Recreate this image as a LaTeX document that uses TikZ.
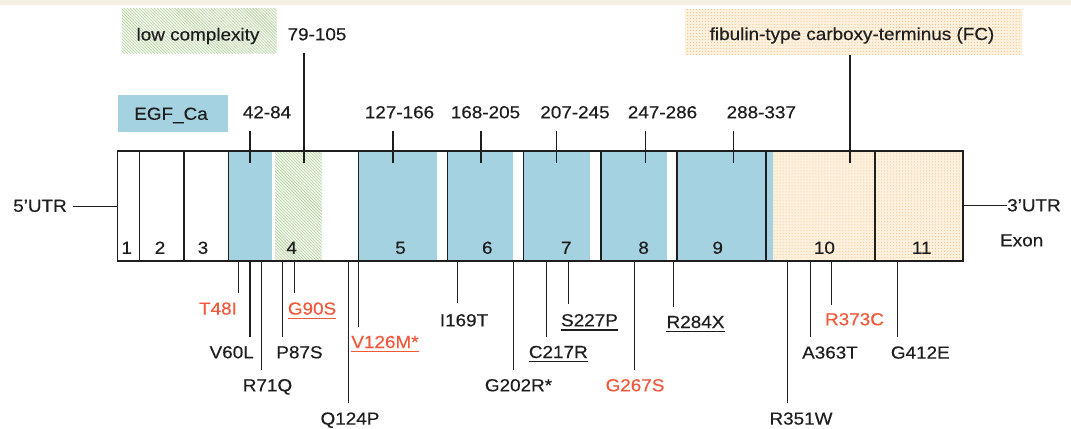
\documentclass[tikz,border=0pt]{standalone}
\usepackage{fontspec}
\setmainfont{Liberation Sans}[FakeStretch=1.08,FakeBold=0.35]
\usetikzlibrary{patterns}
\definecolor{ink}{RGB}{30,30,30}
\definecolor{egf}{RGB}{165,210,224}
\definecolor{mutred}{RGB}{240,90,60}
\definecolor{strip}{RGB}{244,240,226}
\definecolor{lcline}{RGB}{172,205,150}
\definecolor{lcbg}{RGB}{240,246,234}
\definecolor{fcbg}{RGB}{253,241,222}
\definecolor{fcdot}{RGB}{238,190,130}
\begin{document}
\begin{tikzpicture}[x=1bp,y=-1bp,
  txt/.style={font=\fontsize{17.5bp}{20bp}\selectfont, text=ink, inner sep=0pt},
  lbl/.style={txt, text height=12.6bp, text depth=0pt},
  ln/.style={draw=ink, line width=1.6bp},
  tk/.style={draw=ink, line width=1.5bp},
]
\useasboundingbox (0,0) rectangle (1071,428);
\fill[white] (0,0) rectangle (1071,428);
\fill[strip] (0,0) rectangle (1071,5);

% legend boxes
\node[draw=none, preaction={fill=lcbg}, pattern=north west lines, pattern color=lcline, minimum width=155bp, minimum height=45bp, inner sep=0pt] (lcbox) at (199.2,30.8) {};
\node[txt, anchor=base] (lctext) at (198,40.5) {low complexity};
\node[draw=none, preaction={fill=fcbg}, pattern=dots, pattern color=fcdot, minimum width=337bp, minimum height=46bp, inner sep=0pt] (fcbox) at (853.7,31.8) {};
\node[txt, anchor=base] (fctext) at (852,40) {fibulin-type carboxy-terminus (FC)};
\node[fill=egf, minimum width=110bp, minimum height=37bp, inner sep=0pt] (egfbox) at (173,113.5) {};
\node[lbl] (egftext) at (171,113.5) {EGF\_Ca};

% exon fills
\fill[egf] (228.3,151) rectangle (271.7,260.7);
\fill[lcbg] (275,151) rectangle (321.7,260.7);
\fill[pattern=north west lines, pattern color=lcline] (275,151) rectangle (321.7,260.7);
\fill[egf] (358.3,151) rectangle (436.6,260.7);
\fill[egf] (447.5,151) rectangle (513,260.7);
\fill[egf] (523.3,151) rectangle (590,260.7);
\fill[egf] (601,151) rectangle (666.7,260.7);
\fill[egf] (676.7,151) rectangle (773.3,260.7);
\fill[fcbg] (773.3,151) rectangle (962.7,260.7);
\fill[pattern=dots, pattern color=fcdot] (773.3,151) rectangle (962.7,260.7);

% exon frame
\draw[ln] (117.3,151) rectangle (962.7,260.7);
\foreach \bx in {139.3,184,228.3,358.3,447.5,523.3,601,676.7,766,875}
  \draw[ln] (\bx,151) -- (\bx,260.7);

% exon numbers
\foreach \i/\ex in {1/126.7,2/160,3/203,4/291.7,5/400.5,6/487.3,7/566.2,8/643.6,9/717.7,10/824.4,11/921.7}
  \node[lbl] (ex\i) at (\ex,247.5) {\i};
\node[lbl] (exon) at (1021.7,240) {Exon};

% UTRs
\node[lbl, anchor=east] (utr5) at (67,205.5) {5'UTR};
\coordinate (boxL) at (117.3,206.7);
\draw[tk] ([xshift=6bp]utr5.east |- boxL) -- (boxL);
\node[lbl, anchor=west] (utr3) at (1007,205) {3'UTR};
\coordinate (boxR) at (962.7,205.7);
\draw[tk] (boxR) -- (utr3.west |- boxR);

% domain ranges
\foreach \n/\tx/\cx/\cy/\ty/\t in {a/250/267/112/131/42-84, b/304/317/34/53.3/79-105, c/393/399.5/112/131/127-166, d/481/485.5/112/131/168-205, e/556.7/575/112/131/207-245, f/645.7/662.5/112/131/247-286, g/733.3/761.3/112/131/288-337}{
  \node[lbl] (dl\n) at (\cx,\cy) {\t};
  \coordinate (dt\n) at (\tx,\ty);
  \coordinate (db\n) at (\tx,162.7);
  \draw[tk] (dt\n) -- (db\n);
}
\coordinate (fct) at (850,55);
\coordinate (fcb) at (850,162.7);
\draw[tk] (fct) -- (fcb);

% mutations
\foreach \n/\x/\ey/\cx/\cy/\t/\c/\u in {
  1/238.3/293.3/218/308.3/T48I/mutred/0,
  2/250/337.3/231.7/352/V60L/ink/0,
  3/261.7/370/267.5/385/R71Q/ink/0,
  4/282.7/337.3/299.5/352/P87S/ink/0,
  5/294.3/293.3/312/308.3/G90S/mutred/1,
  6/348.3/403.3/350/418.3/Q124P/ink/0,
  7/358.3/326.7/385/341.7/V126M*/mutred/1,
  8/457.7/303.3/464/320/I169T/ink/0,
  9/513.3/370/518.5/385/G202R*/ink/0,
  10/546.7/336.7/558.3/351.7/C217R/ink/1,
  11/568.3/304.3/589.5/320/S227P/ink/1,
  12/634.3/370/635/385/G267S/mutred/0,
  13/673.3/306.7/695.5/321.7/R284X/ink/1,
  14/787.3/403.3/801/418.3/R351W/ink/0,
  15/810.7/336.7/830/352.3/A363T/ink/0,
  16/831.7/305/854.5/319/R373C/mutred/0,
  17/897.3/336.7/920.3/352.3/G412E/ink/0}{
  \coordinate (mt\n) at (\x,260.7);
  \coordinate (me\n) at (\x,\ey);
  \draw[tk] (mt\n) -- (me\n);
  \node[lbl, text=\c] (ml\n) at (\cx,\cy) {\t};
  \ifnum\u=1
    \draw[draw=\c, line width=1.3bp] ([yshift=-3.5bp]ml\n.south west) -- ([yshift=-3.5bp]ml\n.south east);
  \fi
}
\end{tikzpicture}
\end{document}
